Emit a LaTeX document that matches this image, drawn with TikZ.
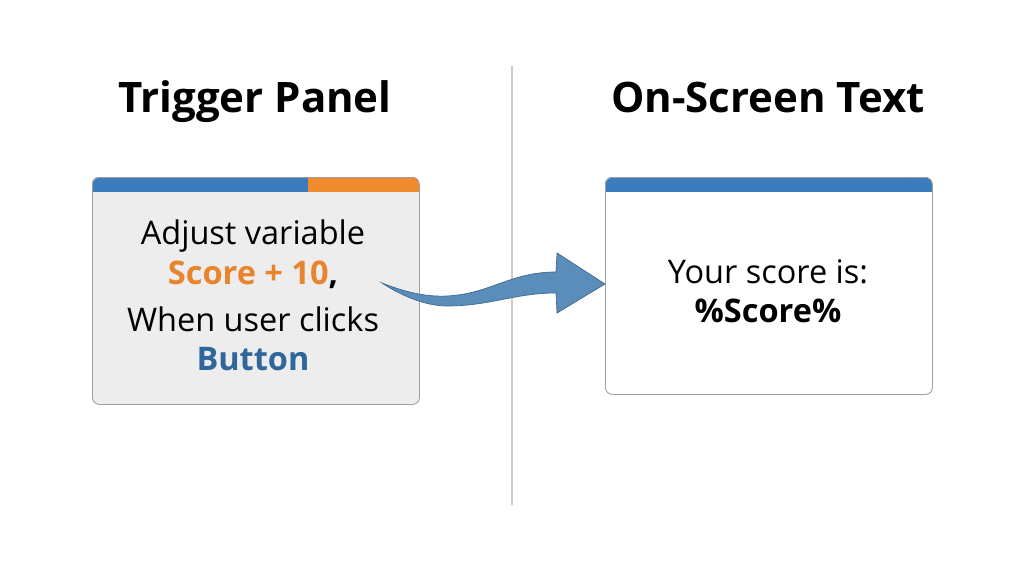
\documentclass[tikz,border=0pt]{standalone}
\usepackage{fontspec}
\setmainfont{Open Sans}
\definecolor{barblue}{HTML}{3B7DBC}
\definecolor{barorange}{HTML}{EF8A2E}
\definecolor{txtorange}{HTML}{E8842C}
\definecolor{txtblue}{HTML}{2F679C}
\definecolor{panelgray}{HTML}{EDEDED}
\definecolor{edgegray}{HTML}{A0A0A0}
\definecolor{divgray}{HTML}{CCCCCC}
\definecolor{arrowfill}{HTML}{5A8DB9}
\definecolor{arrowedge}{HTML}{3E6A90}
\tikzset{
  title/.style={anchor=base, font=\fontsize{42}{48}\selectfont\bfseries, text=black, inner sep=0pt},
  body/.style={anchor=base, font=\fontsize{32.5}{38}\selectfont, text=black, inner sep=0pt},
  panel/.style={draw=edgegray, line width=0.9pt, rounded corners=7pt},
}
\begin{document}
\begin{tikzpicture}[x=1pt,y=-1pt]
\useasboundingbox[fill=white] (0,0) rectangle (1024,572);
% divider
\draw[divgray, line width=1.4pt] (512,66) -- (512,505);
% titles
\node[title] (t1) at (255,113) {Trigger Panel};
\node[title] (t2) at (768,113) {On-Screen Text};
% left panel
\begin{scope}
\clip[rounded corners=7pt] (92,177) rectangle (419,404);
\fill[panelgray] (92,177) rectangle (419,404);
\fill[barblue] (92,177) rectangle (308,192);
\fill[barorange] (308,177) rectangle (419,192);
\end{scope}
\node[panel, minimum width=327pt, minimum height=227pt, anchor=north west] (lp) at (92,177) {};
% right panel
\begin{scope}
\clip[rounded corners=7pt] (605,177) rectangle (932,394);
\fill[white] (605,177) rectangle (932,394);
\fill[barblue] (605,177) rectangle (932,192);
\end{scope}
\node[panel, minimum width=327pt, minimum height=217pt, anchor=north west] (rp) at (605,177) {};
% left text
\node[body] (l1) at (253,244) {Adjust variable};
\node[body] (l2) at (253,284) {\textbf{\textcolor{txtorange}{Score + 10},}};
\node[body] (l3) at (253,331) {When user clicks};
\node[body] (l4) at (253,370) {\textbf{\textcolor{txtblue}{Button}}};
% right text
\node[body] (r1) at (768,283) {Your score is:};
\node[body] (r2) at (768,322) {\textbf{\%Score\%}};
% arrow
\coordinate (tail) at (382,283);
\coordinate (tip) at (rp.west |- 0,284);
\fill[arrowfill, draw=arrowedge, line width=0.7pt, line join=miter]
  (tail) .. controls (405,292) and (425,297) .. (447,296)
  .. controls (490,294) and (510,272) .. (556,272)
  -- (557,253) -- (tip) -- (557,313) -- (556,293)
  .. controls (515,293) and (490,306) .. (447,306)
  .. controls (425,306) and (400,295) .. cycle;
\end{tikzpicture}
\end{document}
